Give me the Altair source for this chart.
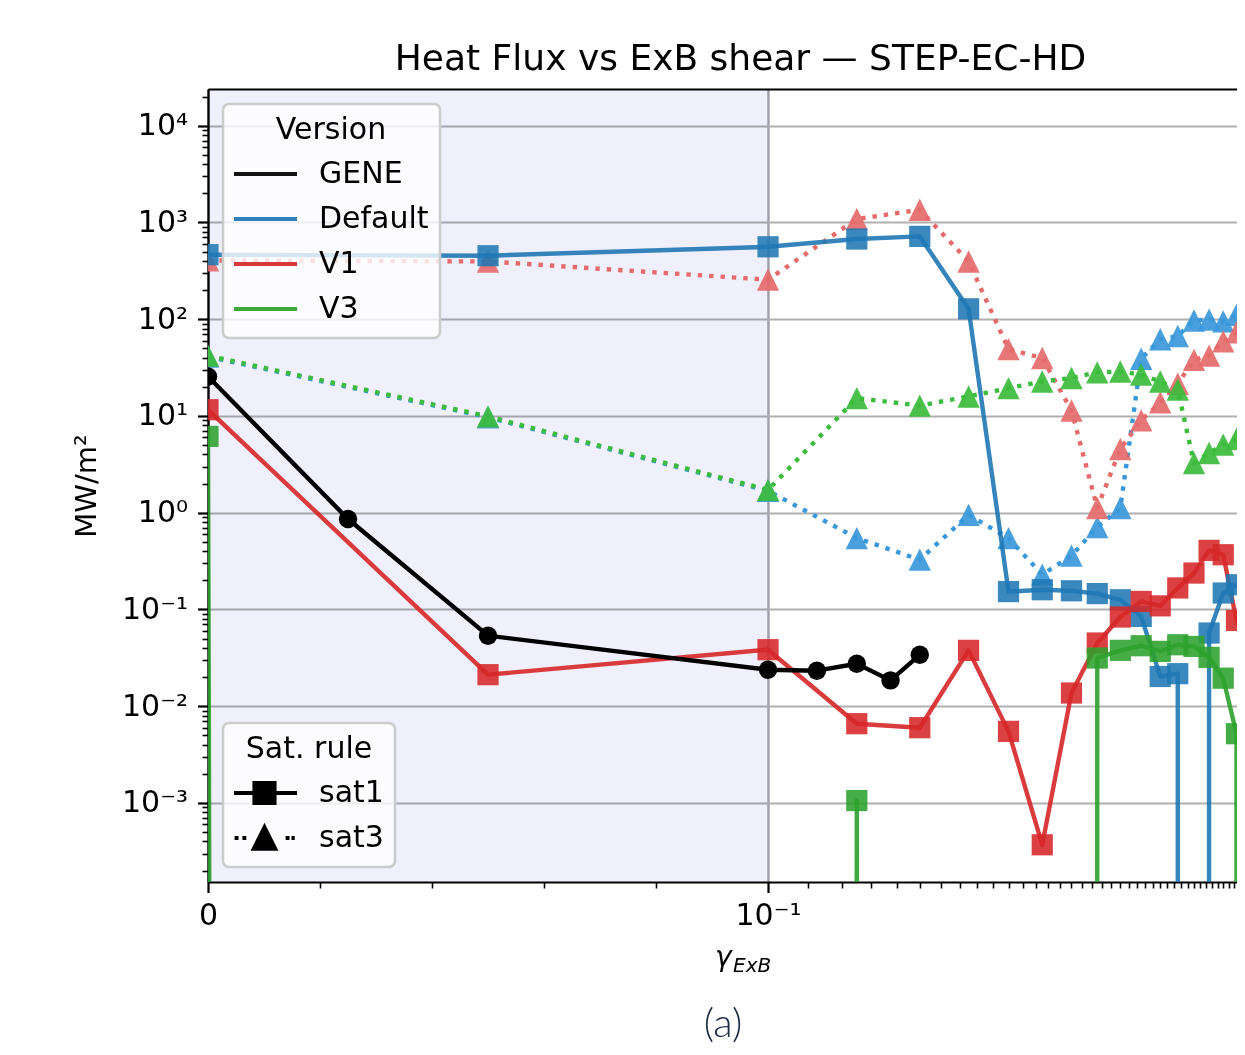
import math

import altair as alt
import pandas as pd

# symlog x axis as in matplotlib (linthresh 0.1, linscale 1)
LINTHRESH = 0.1
LINSCALE = 10 / 9

versions = ["GENE", "Default", "V1", "V3"]
version_colors = ["#000000", "#1f77b4", "#d62728", "#2ca02c"]
sat3_versions = ["Default", "V1", "V3"]
sat3_colors = ["#3a98da", "#e56b6b", "#3cbc3c"]
sat_rules = ["sat1", "sat3"]

gamma_gene = [0.0, 0.025, 0.05, 0.1, 0.125, 0.15, 0.175, 0.2]
flux_gene = [25.6, 0.86, 0.0536, 0.0238, 0.0233, 0.0275, 0.0185, 0.034]

gamma = [0.0, 0.05, 0.1, 0.15, 0.2, 0.25, 0.3, 0.35, 0.4, 0.45,
         0.5, 0.55, 0.6, 0.65, 0.7, 0.75, 0.8, 0.85, 0.9]
# 0 = no flux (drawn as a drop to the bottom, like matplotlib's log clip)
flux_default_sat1 = [464, 453, 560, 674, 717, 128, 0.153, 0.16, 0.156, 0.146,
                     0.126, 0.0848, 0.0203, 0.0217, 0, 0.0571, 0.148, 0.18, 0.2]
flux_v1_sat1 = [11.6, 0.0212, 0.0384, 0.0066, 0.0060, 0.0378, 0.0055, 0.00037, 0.0137, 0.045,
                0.0836, 0.121, 0.109, 0.167, 0.238, 0.408, 0.368, 0.077, 0.038]
flux_v3_sat1 = [6.15, 0, 0, 0.00106, 0, 0, 0, 0, 0, 0.0315,
                0.0378, 0.0422, 0.0369, 0.0432, 0.0415, 0.032, 0.0195, 0.0052, 0]
flux_default_sat3 = [41, 9.7, 1.68, 0.547, 0.327, 0.95, 0.547, 0.229, 0.36, 0.71,
                     1.12, 39, 62, 67, 97, 99, 95, 111, 115]
flux_v1_sat3 = [405, 395, 256, 1084, 1353, 395, 49, 39.7, 11.4, 1.12,
                4.55, 9.0, 13.8, 21.5, 38, 42, 59, 73, 78]
flux_v3_sat3 = [42, 9.9, 1.72, 15.3, 12.8, 15.9, 19.4, 22.7, 24.7, 28.2,
                28.8, 26.7, 22.7, 18.7, 3.26, 4.14, 5.05, 5.78, 6.3]

y_exponents = [-3, -2, -1, 0, 1, 2, 3, 4]
y_range_exp = [-3.8165, 4.379]
x_major = [0.0, 0.1]
x_minor_step = 0.02
x_view_max = 0.852
shade_span = [0.0, 0.1]

W, H = 1029, 793
FONT = "DejaVu Sans"
LW = 4.4

SUP = {"-": "\u207b", "0": "\u2070", "1": "\u00b9", "2": "\u00b2", "3": "\u00b3",
       "4": "\u2074", "5": "\u2075", "6": "\u2076", "7": "\u2077", "8": "\u2078", "9": "\u2079"}


def sup(n):
    return "".join(SUP[c] for c in str(n))


def symlog(v):
    if v <= LINTHRESH:
        return v * LINSCALE
    return LINTHRESH * (LINSCALE + math.log10(v / LINTHRESH))


def symlog_expr(field):
    return (f"datum.{field} <= {LINTHRESH} ? datum.{field} * {LINSCALE} : "
            f"{LINTHRESH} * ({LINSCALE} + log(datum.{field} / {LINTHRESH}) / LN10)")


rows = []
for ver, sat, xs, qs in [
    ("GENE", "sat1", gamma_gene, flux_gene),
    ("Default", "sat1", gamma, flux_default_sat1),
    ("V1", "sat1", gamma, flux_v1_sat1),
    ("V3", "sat1", gamma, flux_v3_sat1),
    ("Default", "sat3", gamma, flux_default_sat3),
    ("V1", "sat3", gamma, flux_v1_sat3),
    ("V3", "sat3", gamma, flux_v3_sat3),
]:
    for g, q in zip(xs, qs):
        rows.append({"version": ver, "sat": sat, "g": g, "q": q})
df = pd.DataFrame(rows)

c3_expr = " : ".join(f"datum.version == '{v}' ? '{c}'" for v, c in zip(sat3_versions, sat3_colors)) + " : 'gray'"

# x ticks (symlog space)
x_ticks = []
k = 0
while x_minor_step * k <= x_view_max + 1e-9:
    x_ticks.append(symlog(round(x_minor_step * k, 10)))
    k += 1
x_major_t = [symlog(v) for v in x_major]
x_major_test = " || ".join(f"abs(datum.value - {t}) < 1e-6" for t in x_major_t)
x_label_expr = (f"abs(datum.value - {x_major_t[0]}) < 1e-6 ? '0' : "
                f"abs(datum.value - {x_major_t[1]}) < 1e-6 ? '10{sup(-1)}' : ''")

# y ticks (log10 space, like matplotlib's log axis)
y_ticks = []
for e in range(y_exponents[0] - 1, y_exponents[-1] + 1):
    for m in range(1, 10):
        v = math.log10(m * 10.0 ** e)
        if y_range_exp[0] <= v <= y_range_exp[1]:
            y_ticks.append(v)
y_major_test = "abs(datum.value - round(datum.value)) < 0.001"
y_label_expr = "".join(
    f"abs(datum.value - ({e})) < 0.001 ? '10{sup(e)}' : " for e in y_exponents
) + "''"

x_scale = alt.Scale(domain=[0, symlog(x_view_max)], nice=False, zero=False)
y_scale = alt.Scale(domain=y_range_exp, nice=False, zero=False)

x_axis_bottom = alt.Axis(
    orient="bottom", values=x_ticks, labelExpr=x_label_expr, title=None,
    labelFont=FONT, labelFontSize=30, labelColor="black", labelPadding=8,
    labelFlush=False, labelOverlap=False,
    domainColor="black", domainWidth=2.2,
    tickColor="black",
    tickSize={"condition": {"test": x_major_test, "value": 10.5}, "value": 6},
    tickWidth={"condition": {"test": x_major_test, "value": 2.2}, "value": 1.6},
    grid=True, gridColor="#a0a0aa", gridWidth=2.4,
    gridOpacity={"condition": {"test": x_major_test, "value": 1}, "value": 0},
)
x_axis_top = alt.Axis(orient="top", domainColor="black", domainWidth=2.2,
                      ticks=False, labels=False, grid=False, title=None)
y_axis = alt.Axis(
    orient="left", values=y_ticks, labelExpr=y_label_expr, title="MW/m\u00b2",
    titleFont=FONT, titleFontSize=29, titleFontWeight="normal", titleColor="black",
    titlePadding=20,
    labelFont=FONT, labelFontSize=30, labelColor="black", labelPadding=10,
    labelFlush=False, labelOverlap=False,
    domainColor="black", domainWidth=2.2,
    tickColor="black",
    tickSize={"condition": {"test": y_major_test, "value": 10.5}, "value": 6},
    tickWidth={"condition": {"test": y_major_test, "value": 2.2}, "value": 1.6},
    grid=True, gridColor="#b0b0b0", gridWidth=2.2,
    gridOpacity={"condition": {"test": y_major_test, "value": 1}, "value": 0},
)

legend_box = dict(
    orient="none", labelFont=FONT, titleFont=FONT, labelFontSize=30, titleFontSize=30,
    titleFontWeight="normal", titleColor="black", labelColor="black",
    titleAnchor="middle", titlePadding=11.5, padding=11, rowPadding=10,
    symbolSize=4225, symbolStrokeWidth=4, symbolOffset=-4, clipHeight=35, labelOffset=20,
    fillColor="rgba(255,255,255,0.8)", strokeColor="#cccccc", cornerRadius=6,
)
ver_legend = alt.Legend(title="Version", legendX=15, legendY=15, symbolType="stroke", **legend_box)
ver_color = alt.Color("version:N", scale=alt.Scale(domain=versions, range=version_colors), legend=ver_legend)

# legend glyphs: line + marker, as matplotlib draws them
sat1_glyph = "M-1,0H1M-0.31,-0.31H0.31V0.31H-0.31Z"
sat3_glyph = ("M-0.92,0H-0.8M-0.68,0H-0.56M0.65,0H0.77M0.83,0H0.93"
              "M0,-0.33L0.33,0.33L-0.33,0.33Z")
sat_legend = alt.Legend(title="Sat. rule", legendX=15, legendY=634, symbolOpacity=1, **legend_box)
triangle = "M0,-1L1,1L-1,1Z"

base = alt.Chart(df).transform_calculate(
    gt=symlog_expr("g"),
    ly="datum.q > 0 ? log(datum.q) / LN10 : -1000",
    c3=c3_expr,
)
X = alt.X("gt:Q", scale=x_scale, axis=None)
Y = alt.Y("ly:Q", scale=y_scale, axis=None)

shade = alt.Chart(pd.DataFrame({"lo": [shade_span[0]], "hi": [shade_span[1]]})).transform_calculate(
    lo_t=symlog_expr("lo"), hi_t=symlog_expr("hi")
).mark_rect(color="#f0f0fc", blend="multiply").encode(
    x=alt.X("lo_t:Q", scale=x_scale, axis=x_axis_bottom), x2="hi_t:Q"
)

sat3_lines = base.transform_filter("datum.sat == 'sat3'").mark_line(
    strokeWidth=LW, strokeDash=[4.4, 7], clip=True, strokeJoin="round"
).encode(
    x=alt.X("gt:Q", scale=x_scale, axis=x_axis_top),
    y=alt.Y("ly:Q", scale=y_scale, axis=y_axis),
    color=alt.Color("c3:N", scale=None),
    detail="version:N",
)
sat3_points = base.transform_filter("datum.sat == 'sat3' && datum.q > 0").mark_point(
    shape=triangle, filled=True, size=500, opacity=0.92, clip=True
).encode(x=X, y=Y, color=alt.Color("c3:N", scale=None))

sat1 = base.transform_filter("datum.sat == 'sat1' && datum.version != 'GENE'")
sat1_lines = sat1.mark_line(strokeWidth=LW, opacity=0.9, clip=True, strokeJoin="round").encode(
    x=X, y=Y, color=ver_color
)
sat1_points = sat1.transform_filter("datum.q > 0").mark_square(
    size=450, opacity=0.88, clip=True
).encode(x=X, y=Y, color=ver_color)

gene = base.transform_filter("datum.version == 'GENE'")
gene_line = gene.mark_line(strokeWidth=LW, clip=True, strokeJoin="round").encode(x=X, y=Y, color=ver_color)
gene_points = gene.mark_circle(size=340, opacity=1, clip=True).encode(x=X, y=Y, color=ver_color)

sat_key = alt.Chart(pd.DataFrame({"sat": sat_rules})).mark_point(
    filled=True, opacity=0, size=10, strokeWidth=4
).encode(
    shape=alt.Shape("sat:N", scale=alt.Scale(domain=sat_rules, range=[sat1_glyph, sat3_glyph]),
                    legend=sat_legend),
    fill=alt.value("black"),
    stroke=alt.value("black"),
)

x_title_main = alt.Chart(pd.DataFrame({"t": ["\u03b3"]})).mark_text(
    font=FONT, fontSize=28, fontStyle="italic", align="left", baseline="alphabetic", color="black"
).encode(text="t:N", x=alt.value(507), y=alt.value(877))
x_title_sub = alt.Chart(pd.DataFrame({"t": ["ExB"]})).mark_text(
    font=FONT, fontSize=20, fontStyle="italic", align="left", baseline="alphabetic", color="black"
).encode(text="t:N", x=alt.value(525), y=alt.value(883))
caption = alt.Chart(pd.DataFrame({"t": ["(a)"]})).mark_text(
    font="Lato", fontSize=40, fontWeight=300, align="center", baseline="alphabetic", color="#1d2a44"
).encode(text="t:N", x=alt.value(515), y=alt.value(948))

chart = alt.layer(
    shade, sat3_lines, sat3_points, sat1_lines, sat1_points, gene_line, gene_points,
    sat_key, x_title_main, x_title_sub, caption,
).resolve_axis(x="independent", y="independent").properties(
    width=W, height=H,
    title=alt.TitleParams("Heat Flux vs ExB shear \u2014 STEP-EC-HD", font=FONT, fontSize=36,
                          fontWeight="normal", color="black", anchor="middle", dx=18, offset=4),
    autosize=alt.AutoSizeParams(type="none"),
    padding={"left": 200, "top": 81, "right": 0, "bottom": 165},
).configure_view(stroke=None).configure_legend(strokeWidth=2.5)

chart.save("out.html", embed_options={"renderer": "svg", "actions": False})
